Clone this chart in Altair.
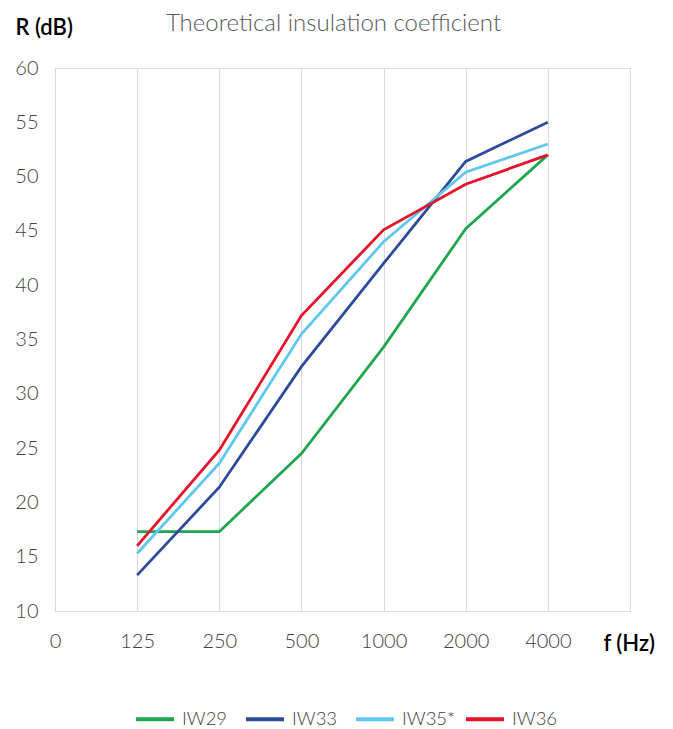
import altair as alt
import pandas as pd

freq_labels = ["0", "125", "250", "500", "1000", "2000", "4000"]
freqs = ["125", "250", "500", "1000", "2000", "4000"]
iw29 = [17.3, 17.3, 24.5, 34.3, 45.2, 52.0]
iw33 = [13.3, 21.4, 32.5, 42.0, 51.4, 55.0]
iw35 = [15.3, 23.6, 35.5, 44.0, 50.4, 53.0]
iw36 = [16.0, 24.8, 37.2, 45.1, 49.3, 52.0]
series = ["IW29", "IW33", "IW35*", "IW36"]
colors = ["#1fa64f", "#2e4a9a", "#5ec8f0", "#e5132b"]

rows = []
for name, vals in zip(series, [iw29, iw33, iw35, iw36]):
    for f, v in zip(freqs, vals):
        rows.append({"series": name, "pos": freq_labels.index(f), "freq": f, "R": v})
df = pd.DataFrame(rows)

label_expr = "[" + ",".join("'%s'" % s for s in freq_labels) + "][datum.value] || ''"

FONT = "Lato"
LBL = "#404040"

chart = alt.Chart(df).mark_line(strokeWidth=2.8).encode(
    x=alt.X("pos:Q",
            scale=alt.Scale(domain=[0, 7], nice=False, zero=False),
            axis=alt.Axis(values=list(range(8)), labelExpr=label_expr, grid=True,
                          gridColor="#d9d9d9", gridWidth=1, ticks=False, domain=False,
                          labelFlush=False,
                          labelPadding=20, labelFontSize=20, labelFont=FONT,
                          labelFontWeight=300, labelColor=LBL,
                          title="f (Hz)", titleFont=FONT, titleFontSize=22,
                          titleFontWeight=600, titleColor="#000000",
                          titleAngle=0, titleAlign="left", titleBaseline="middle",
                          titleX=548, titleY=32)),
    y=alt.Y("R:Q",
            scale=alt.Scale(domain=[10, 60], nice=False, zero=False),
            axis=alt.Axis(values=list(range(10, 61, 5)), grid=False, ticks=False, domain=False,
                          labelPadding=17, labelFontSize=20, labelFont=FONT,
                          labelFontWeight=300, labelColor=LBL,
                          title="R (dB)", titleFont=FONT, titleFontSize=22,
                          titleFontWeight=600, titleColor="#000000",
                          titleAngle=0, titleAlign="left", titleBaseline="middle",
                          titleX=-40, titleY=-41)),
    color=alt.Color("series:N",
                    scale=alt.Scale(domain=series, range=colors),
                    legend=alt.Legend(title=None, orient="none", direction="horizontal",
                                      legendX=79, legendY=630,
                                      symbolType="stroke", symbolSize=1444,
                                      symbolStrokeWidth=4, labelFont=FONT,
                                      labelFontSize=18.5, labelFontWeight=300,
                                      labelColor=LBL, labelOffset=6,
                                      gridAlign="all", columnPadding=3)),
).properties(
    width=575,
    height=543,
    title=alt.TitleParams("Theoretical insulation coefficient", font=FONT, fontSize=24,
                          fontWeight=300, color="#595959", anchor="middle",
                          frame="group", dx=-9, offset=-20),
    padding={"left": 47, "top": 60, "right": 35, "bottom": 122},
    autosize=alt.AutoSizeParams(type="none"),
).configure_view(stroke="#d9d9d9", strokeWidth=1).configure(background="white")

chart.save("out.html", embed_options={"renderer": "svg", "actions": False})
